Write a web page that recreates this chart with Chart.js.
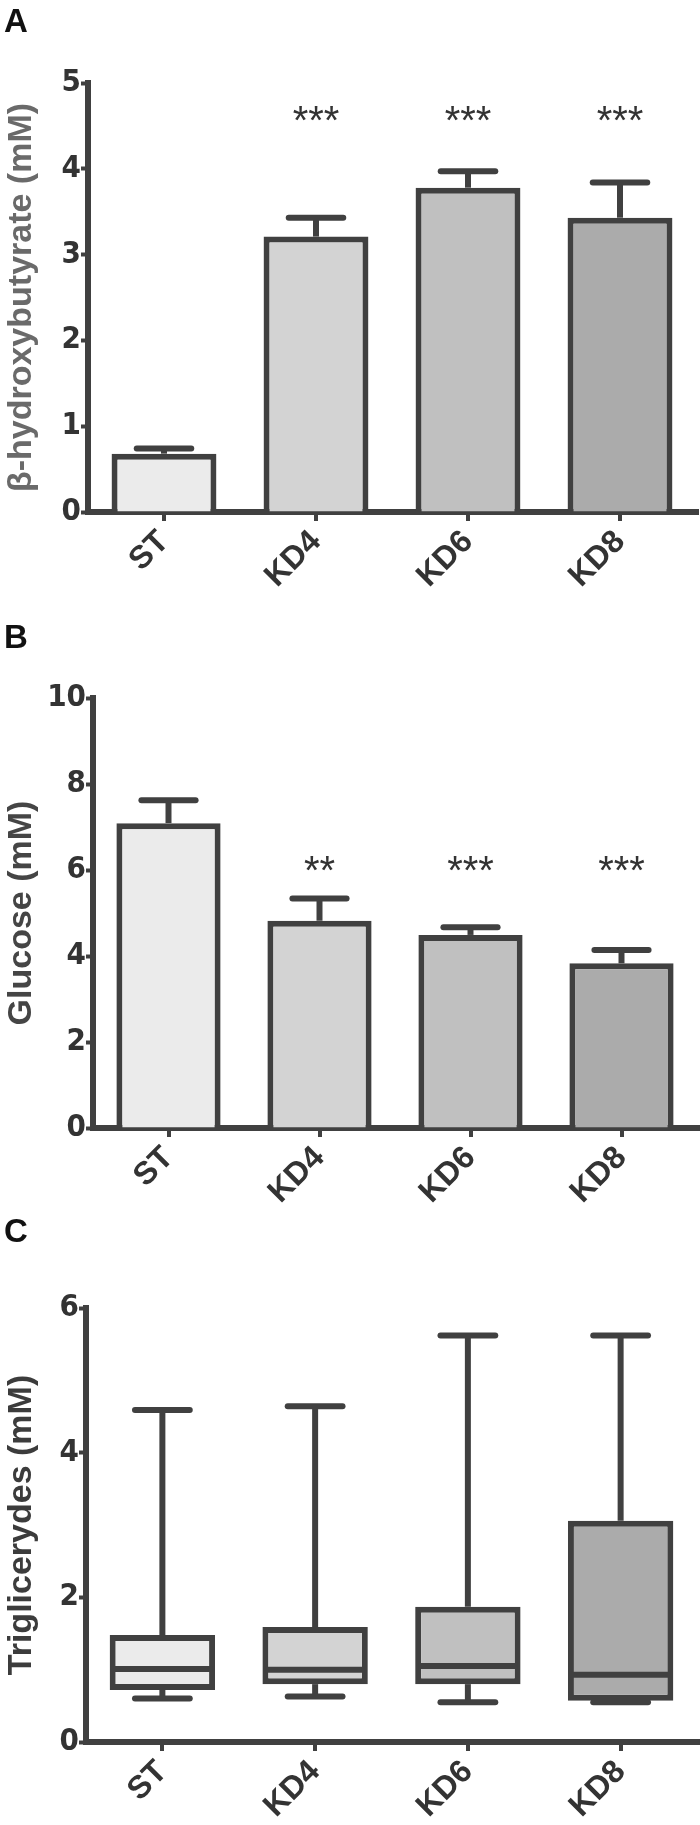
<!DOCTYPE html>
<html>
<head>
<meta charset="utf-8">
<script src="https://cdn.jsdelivr.net/npm/chart.js@4.4.1/dist/chart.umd.min.js"></script>
<style>
  html, body { margin: 0; padding: 0; background: #fff; }
  body { width: 700px; height: 1825px; position: relative; overflow: hidden; }
  .panel { position: absolute; left: 0; width: 700px; }
</style>
</head>
<body>
<div class="panel" style="top:0px"><canvas id="chartA" width="700" height="608"></canvas></div>
<div class="panel" style="top:608px"><canvas id="chartB" width="700" height="608"></canvas></div>
<div class="panel" style="top:1216px"><canvas id="chartC" width="700" height="609"></canvas></div>
<script>
const groups = ['ST', 'KD4', 'KD6', 'KD8']
const fills = ['#ebebeb', '#d3d3d3', '#c0c0c0', '#ababab']

// A: beta-hydroxybutyrate, mean + SEM (mM)
const bhbMean = [0.68, 3.21, 3.78, 3.43]
const bhbErr = [0.06, 0.22, 0.19, 0.41]
const bhbStars = ['', '***', '***', '***']
const bhbTicks = [0, 1, 2, 3, 4, 5]

// B: glucose, mean + SEM (mM)
const gluMean = [7.09, 4.82, 4.49, 3.83]
const gluErr = [0.53, 0.52, 0.18, 0.31]
const gluStars = ['', '**', '***', '***']
const gluTicks = [0, 2, 4, 6, 8, 10]

// C: triglycerides, box and whiskers (mM)
const tgMin = [0.60, 0.63, 0.55, 0.55]
const tgQ1 = [0.72, 0.80, 0.80, 0.57]
const tgMedian = [1.01, 1.00, 1.05, 0.93]
const tgQ3 = [1.48, 1.59, 1.87, 3.06]
const tgMax = [4.59, 4.64, 5.62, 5.62]
const tgTicks = [0, 2, 4, 6]

const DARK = '#404040'
const SANS = "'Liberation Sans', Arial, sans-serif"
const NARROW = "'Liberation Sans Narrow', 'Arial Narrow', 'DejaVu Sans Condensed', sans-serif"

function stroke(ctx, x1, y1, x2, y2, cap) {
    ctx.lineCap = cap
    ctx.beginPath()
    ctx.moveTo(x1, y1)
    ctx.lineTo(x2, y2)
    ctx.stroke()
}

// error bars, whiskers, medians, significance stars and the panel letter
const extras = {
    id: 'extras',
    afterDatasetsDraw(chart, args, opts) {
        const ctx = chart.ctx
        const y = chart.scales.y
        const bars = chart.getDatasetMeta(0).data
        ctx.save()
        ctx.strokeStyle = DARK
        ctx.lineWidth = 6
        bars.forEach((bar, i) => {
            const half = bar.width * 0.26
            if (opts.mean) {
                const base = y.getPixelForValue(opts.mean[i])
                const top = y.getPixelForValue(opts.mean[i] + opts.err[i])
                stroke(ctx, bar.x, base, bar.x, top, 'butt')
                stroke(ctx, bar.x - half, top, bar.x + half, top, 'round')
            }
            if (opts.median) {
                const hi = y.getPixelForValue(opts.max[i])
                const lo = y.getPixelForValue(opts.min[i])
                stroke(ctx, bar.x, y.getPixelForValue(opts.q3[i]), bar.x, hi, 'butt')
                stroke(ctx, bar.x, y.getPixelForValue(opts.q1[i]), bar.x, lo, 'butt')
                stroke(ctx, bar.x - half, hi, bar.x + half, hi, 'round')
                stroke(ctx, bar.x - half, lo, bar.x + half, lo, 'round')
                const m = y.getPixelForValue(opts.median[i])
                stroke(ctx, bar.x - bar.width / 2 + 3, m, bar.x + bar.width / 2 - 3, m, 'butt')
            }
            if (opts.stars && opts.stars[i]) {
                ctx.font = '40px ' + SANS
                ctx.fillStyle = '#333'
                ctx.textAlign = 'center'
                ctx.textBaseline = 'alphabetic'
                const t = ctx.measureText(opts.stars[i])
                const py = y.getPixelForValue(opts.starLevel)
                ctx.fillText(opts.stars[i], bar.x, py + (t.actualBoundingBoxAscent - t.actualBoundingBoxDescent) / 2)
            }
        })
        ctx.restore()
    },
    afterDraw(chart, args, opts) {
        const ctx = chart.ctx
        ctx.save()
        ctx.font = 'bold 33px ' + SANS
        ctx.fillStyle = '#111'
        ctx.textAlign = 'left'
        ctx.textBaseline = 'alphabetic'
        ctx.fillText(opts.letter, 4, opts.letterY)
        ctx.restore()
    }
}

// area = [left, top, right, bottom] of the plot inside the canvas
function panel(id, datasets, yTicks, title, titleColor, area, extraOpts) {
    const canvas = document.getElementById(id)
    const H = canvas.height
    return new Chart(canvas, {
        type: 'bar',
        data: { labels: groups, datasets: datasets },
        plugins: [extras],
        options: {
            responsive: false,
            animation: false,
            layout: { padding: { top: area[1], right: 700 - area[2], left: 0, bottom: 0 } },
            plugins: {
                legend: { display: false },
                tooltip: { enabled: false },
                extras: extraOpts
            },
            scales: {
                x: {
                    z: 1,
                    offset: true,
                    grid: { display: true, drawOnChartArea: false, offset: false, tickLength: 9, tickWidth: 4, tickColor: DARK, lineWidth: 6 },
                    border: { display: true, color: DARK, width: 6 },
                    ticks: {
                        color: '#333', autoSkip: false, minRotation: 45, maxRotation: 45, padding: 2,
                        font: { family: SANS, size: 32, weight: 'bold' }
                    },
                    afterFit: s => { s.height = H - area[3] }
                },
                y: {
                    min: yTicks[0],
                    max: yTicks[yTicks.length - 1],
                    afterBuildTicks: s => { s.ticks = yTicks.map(v => ({ value: v })) },
                    grid: { drawOnChartArea: false, tickLength: 7, tickWidth: 4, tickColor: DARK },
                    border: { color: DARK, width: 6 },
                    ticks: { color: '#333', padding: 0, font: { family: NARROW, size: 31, weight: 'bold' } },
                    title: {
                        display: true, text: title, color: titleColor, padding: { top: 1, bottom: 0 },
                        font: { family: SANS, size: 34, weight: 'bold', lineHeight: 1.2 }
                    },
                    afterFit: s => { s.width = area[0] }
                }
            }
        }
    })
}

function meanBars(values) {
    return [{
        data: values,
        backgroundColor: fills,
        borderColor: DARK,
        borderWidth: 6,
        borderSkipped: 'start',
        barPercentage: 0.69,
        categoryPercentage: 1
    }]
}

panel('chartA', meanBars(bhbMean), bhbTicks, 'β-hydroxybutyrate (mM)', '#6a6a6a',
    [88, 83, 696, 512],
    { mean: bhbMean, err: bhbErr, stars: bhbStars, starLevel: 4.64, letter: 'A', letterY: 31.6 })

panel('chartB', meanBars(gluMean), gluTicks, 'Glucose (mM)', '#454545',
    [93, 90, 697, 520],
    { mean: gluMean, err: gluErr, stars: gluStars, starLevel: 6.16, letter: 'B', letterY: 40 })

panel('chartC', [{
    data: tgQ1.map((q, i) => [q, tgQ3[i]]),
    backgroundColor: fills,
    borderColor: DARK,
    borderWidth: 6,
    borderSkipped: false,
    barPercentage: 0.69,
    categoryPercentage: 1
}], tgTicks, 'Triglicerydes (mM)', '#3c3c3c',
    [86, 92, 697, 526],
    { min: tgMin, q1: tgQ1, median: tgMedian, q3: tgQ3, max: tgMax, letter: 'C', letterY: 26 })
</script>
</body>
</html>
